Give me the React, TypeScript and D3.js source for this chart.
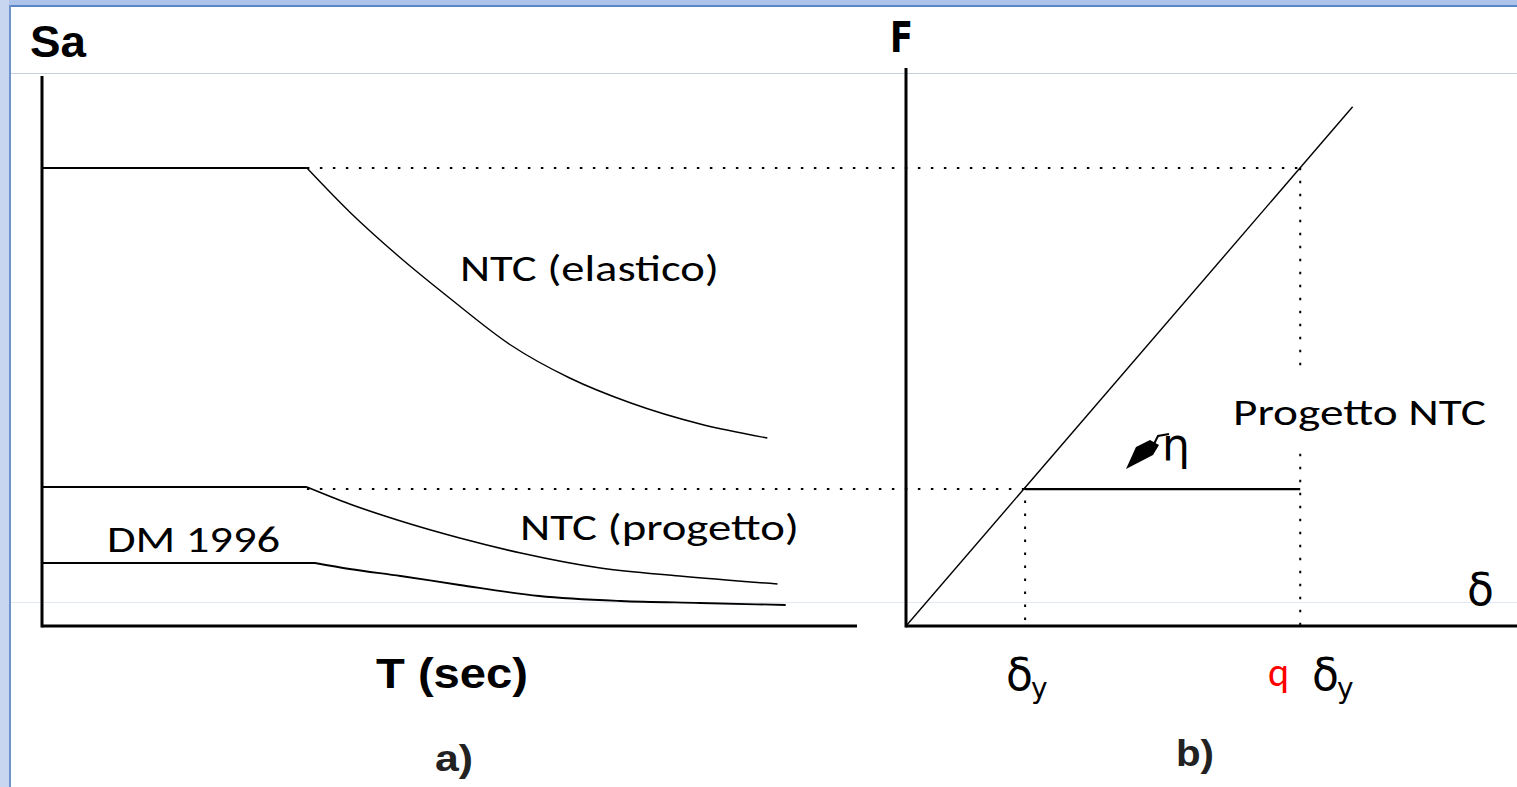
import React from "react";
import * as d3 from "d3";

// Spectrum a): periods (s) and spectral accelerations
const elasticT = [0, 1.3, 1.51, 1.76, 2.0, 2.3, 2.59, 2.89, 3.23, 3.56];
const elasticSa = [4.58, 4.58, 4.14, 3.68, 3.28, 2.81, 2.48, 2.23, 2.02, 1.88];
const designT = [0, 1.3, 1.51, 1.76, 2.05, 2.35, 2.74, 3.13, 3.61];
const designSa = [1.39, 1.39, 1.22, 1.05, 0.88, 0.73, 0.58, 0.5, 0.42];
const dmT = [0, 1.34, 1.51, 1.76, 2.05, 2.44, 2.84, 3.23, 3.65];
const dmSa = [0.63, 0.63, 0.57, 0.5, 0.41, 0.3, 0.25, 0.23, 0.21];

// Force-displacement b)
const deltaY = 1;
const qFactor = 3.31;
const elasticEnd = 3.75;

const W = 1517;
const H = 787;

export default function App() {
  const xT = d3.scaleLinear().domain([0, 4]).range([42, 857]);
  const ySa = d3.scaleLinear().domain([0, 5.5]).range([626, 76]);
  const xD = d3.scaleLinear().domain([0, 5.13]).range([906, 1517]);
  const yF = d3.scaleLinear().domain([0, 4.03]).range([626, 68]);

  const plateau = (T: number[], S: number[]) =>
    `M${xT(T[0])},${ySa(S[0])}L${xT(T[1])},${ySa(S[1])}`;
  const tail = (T: number[], S: number[]) =>
    d3
      .line<number>()
      .x((d) => xT(T[d]))
      .y((d) => ySa(S[d]))
      .curve(d3.curveMonotoneX)(d3.range(1, T.length)) as string;

  const fy = deltaY; // yield force on the elastic branch F = δ
  const fEl = qFactor * deltaY;
  const dot = "2.5 10.5";
  const calibri = "Carlito, 'Open Sans', 'Noto Sans', sans-serif";
  const bold = "'Liberation Sans', Arial, sans-serif";
  const greek = "'DejaVu Sans', sans-serif";

  return (
    <svg
      width={W}
      height={H}
      style={{ position: "absolute", left: 0, top: 0, display: "block" }}
    >
      <rect x={0} y={0} width={W} height={H} fill="#ffffff" />
      {/* window frame */}
      <rect x={0} y={0} width={W} height={5} fill="#aec3ea" />
      <rect x={0} y={5} width={W} height={2} fill="#5a86c6" />
      <rect x={0} y={0} width={9} height={H} fill="#c9d6ef" />
      <rect x={9} y={5} width={2} height={H} fill="#6f94cc" />
      {/* guide lines */}
      <line x1={11} x2={W} y1={73.5} y2={73.5} stroke="#c6d0e0" strokeWidth={1} />
      <line x1={11} x2={W} y1={602.5} y2={602.5} stroke="#e2e8f3" strokeWidth={1} />

      {/* a) axes */}
      <line x1={xT(0)} x2={xT(0)} y1={ySa(5.5)} y2={ySa(0) + 1.5} stroke="#000" strokeWidth={3} />
      <line x1={xT(0)} x2={xT(4)} y1={ySa(0)} y2={ySa(0)} stroke="#000" strokeWidth={3} />

      {/* a) spectra */}
      <path d={plateau(elasticT, elasticSa)} stroke="#000" strokeWidth={2} fill="none" />
      <path d={tail(elasticT, elasticSa)} stroke="#000" strokeWidth={1.4} fill="none" />
      <path d={plateau(designT, designSa)} stroke="#000" strokeWidth={2} fill="none" />
      <path d={tail(designT, designSa)} stroke="#000" strokeWidth={1.6} fill="none" />
      <path d={plateau(dmT, dmSa)} stroke="#000" strokeWidth={2} fill="none" />
      <path d={tail(dmT, dmSa)} stroke="#000" strokeWidth={1.8} fill="none" />

      {/* dotted links between a) and b) */}
      <line
        x1={xT(elasticT[1])}
        x2={xD(qFactor * deltaY)}
        y1={ySa(elasticSa[1])}
        y2={ySa(elasticSa[1])}
        stroke="#000"
        strokeWidth={2}
        strokeDasharray={dot}
      />
      <line
        x1={xT(designT[1])}
        x2={xD(deltaY)}
        y1={yF(fy) + 1.5}
        y2={yF(fy) + 1.5}
        stroke="#000"
        strokeWidth={2}
        strokeDasharray={dot}
      />

      {/* b) axes */}
      <line x1={xD(0)} x2={xD(0)} y1={yF(4.03)} y2={yF(0) + 1.5} stroke="#000" strokeWidth={3} />
      <line x1={xD(0)} x2={xD(5.13)} y1={yF(0)} y2={yF(0)} stroke="#000" strokeWidth={3} />

      {/* b) dotted verticals */}
      <line
        x1={xD(deltaY)}
        x2={xD(deltaY)}
        y1={yF(fy)}
        y2={yF(0)}
        stroke="#000"
        strokeWidth={2}
        strokeDasharray={dot}
      />
      <line
        x1={xD(qFactor * deltaY)}
        x2={xD(qFactor * deltaY)}
        y1={yF(fEl)}
        y2={yF(0)}
        stroke="#000"
        strokeWidth={2}
        strokeDasharray={dot}
      />

      {/* b) elastic branch and design plateau */}
      <line
        x1={xD(0)}
        y1={yF(0)}
        x2={xD(elasticEnd)}
        y2={yF(elasticEnd)}
        stroke="#000"
        strokeWidth={1.4}
      />
      <line
        x1={xD(deltaY)}
        x2={xD(qFactor * deltaY)}
        y1={yF(fy) + 1.5}
        y2={yF(fy) + 1.5}
        stroke="#000"
        strokeWidth={2.2}
      />

      {/* reduction arrow with η */}
      <path
        d="M1126,469 L1136,447 L1150,440 L1159,445 L1153,455 Z"
        fill="#000"
      />
      <path d="M1154,444 L1158,436 L1169,434" stroke="#000" strokeWidth={2} fill="none" />
      <text x={1162} y={460} fontFamily={greek} fontSize={44} fill="#000">
        η
      </text>

      {/* labels */}
      <text x={30} y={57} fontFamily={bold} fontWeight="bold" fontSize={44} textLength={56} lengthAdjust="spacingAndGlyphs">
        Sa
      </text>
      <text x={890} y={52} fontFamily={greek} fontWeight="bold" fontSize={42} textLength={23} lengthAdjust="spacingAndGlyphs">
        F
      </text>
      <text x={376} y={688} fontFamily={bold} fontWeight="bold" fontSize={42} textLength={152} lengthAdjust="spacingAndGlyphs">
        T (sec)
      </text>
      <text x={435} y={771} fontFamily={bold} fontWeight="bold" fontSize={36} fill="#222" textLength={38} lengthAdjust="spacingAndGlyphs">
        a)
      </text>
      <text x={1176} y={766} fontFamily={bold} fontWeight="bold" fontSize={36} fill="#222" textLength={38} lengthAdjust="spacingAndGlyphs">
        b)
      </text>

      <text x={460} y={281} fontFamily={calibri} fontSize={36} textLength={259} lengthAdjust="spacingAndGlyphs">
        NTC (elastico)
      </text>
      <text x={520} y={540} fontFamily={calibri} fontSize={36} textLength={279} lengthAdjust="spacingAndGlyphs">
        NTC (progetto)
      </text>
      <text x={107} y={552} fontFamily={calibri} fontSize={36} textLength={173} lengthAdjust="spacingAndGlyphs">
        DM 1996
      </text>
      <rect x={1228} y={368} width={265} height={84} fill="#ffffff" />
      <text x={1233} y={425} fontFamily={calibri} fontSize={36} textLength={253} lengthAdjust="spacingAndGlyphs">
        Progetto NTC
      </text>

      <text x={1467} y={605} fontFamily={greek} fontSize={44} fill="#000">
        δ
      </text>
      <text x={1006} y={690} fontFamily={greek} fontSize={44} fill="#000">
        δ
        <tspan fontSize={28} dy={8} dx={-2}>y</tspan>
      </text>
      <text x={1268} y={686} fontFamily={calibri} fontSize={40} fill="#ff0000">
        q
      </text>
      <text x={1312} y={690} fontFamily={greek} fontSize={44} fill="#000">
        δ
        <tspan fontSize={28} dy={8} dx={-2}>y</tspan>
      </text>
    </svg>
  );
}
